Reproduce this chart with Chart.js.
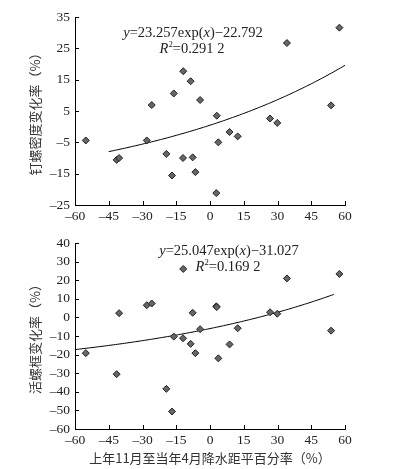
<!DOCTYPE html>
<html><head><meta charset="utf-8">
<script src="https://cdn.jsdelivr.net/npm/chart.js@4"></script>
<style>
html,body{margin:0;padding:0;background:#fff;}
#wrap{position:relative;width:396px;height:469px;overflow:hidden;}
canvas{position:absolute;left:0;}
#c1{top:0;} #c2{top:230px;}
</style></head><body>
<div id="wrap"><canvas id="c1" width="396" height="230"></canvas><canvas id="c2" width="396" height="239"></canvas></div>
<script>
// precipitation anomaly percentage (Nov of previous year to Apr), %
const rainAnomaly = [-55.2,-41.5,-40.4,-28.1,-25.9,-19.4,-16.9,-16.1,-11.9,-12.0,-8.6,-7.7,-6.5,-4.4,2.8,3.0,3.7,8.7,12.3,26.7,29.9,34.2,53.8,57.5];
// snail density change rate, %
const snailDensityChange = [-4.4,-10.6,-10.0,-4.4,6.9,-8.7,-15.6,10.6,17.7,-10.0,14.5,-9.8,-14.5,8.5,-21.2,3.5,-5.0,-1.7,-3.1,2.6,1.2,26.7,6.8,31.6];
// live-snail frame change rate, %
const liveFrameChange = [-19.2,-30.5,2.3,6.6,7.5,-38.4,-50.6,-10.3,26.1,-11.2,-14.2,2.5,-19.2,-6.3,6.0,5.6,-22.0,-14.5,-5.8,2.8,2.0,21.0,-7.1,23.4];

const xTicks = [-60,-45,-30,-15,0,15,30,45,60];
const densityTicks = [-25,-15,-5,5,15,25,35];
const frameTicks = [-60,-50,-40,-30,-20,-10,0,10,20,30,40];

// fitted curves printed on the chart: y = a*exp(x) + b (x as fraction)
const densityFitA = 23.257, densityFitB = -22.792, densityFitR2 = '0.291 2', densityFitRange = [-45, 60];
const frameFitA = 25.047, frameFitB = -31.027, frameFitR2 = '0.169 2', frameFitRange = [-60, 55];

const SERIF = "'Liberation Serif','Times New Roman',serif";
const CJK = "'Noto Sans CJK SC','Liberation Serif',serif";

function fitCurve(a, b, range){
  const pts = [];
  for (let x = range[0]; x <= range[1]; x += 1) pts.push({x, y: a*Math.exp(x/100) + b});
  return pts;
}
const pairs = ys => rainAnomaly.map((x,i)=>({x, y: ys[i]}));
const dash = v => (v < 0 ? '\u2013' + Math.abs(v) : '' + v);

const innerTicks = {
  id: 'innerTicks',
  afterDraw(chart){
    const {ctx, scales:{x, y}} = chart;
    ctx.save(); ctx.strokeStyle = '#000'; ctx.lineWidth = 1; ctx.beginPath();
    x.ticks.forEach(t => { const px = Math.round(x.getPixelForValue(t.value)) + 0.5; ctx.moveTo(px, y.bottom); ctx.lineTo(px, y.bottom - 4); });
    y.ticks.forEach(t => { const py = Math.round(y.getPixelForValue(t.value)) + 0.5; ctx.moveTo(x.left, py); ctx.lineTo(x.left + 4, py); });
    ctx.stroke(); ctx.restore();
  }
};

function drawPieces(ctx, pieces, cx, cy, size){
  let w = 0;
  pieces.forEach(p => {
    ctx.font = (p.it ? 'italic ' : '') + (p.sup ? size*0.6 : size) + 'px ' + SERIF;
    p.w = ctx.measureText(p.t).width; w += p.w;
  });
  let x = cx - w/2;
  ctx.textBaseline = 'alphabetic'; ctx.textAlign = 'left';
  pieces.forEach(p => {
    ctx.font = (p.it ? 'italic ' : '') + (p.sup ? size*0.6 : size) + 'px ' + SERIF;
    ctx.fillText(p.t, x, cy + size*0.33 - (p.sup ? size*0.4 : 0));
    x += p.w;
  });
}

const fitLabel = {
  id: 'fitLabel',
  afterDraw(chart, args, o){
    const ctx = chart.ctx; ctx.save(); ctx.fillStyle = '#222';
    const eq = [{t:'y', it:true}, {t:'=' + o.a.toFixed(3) + 'exp('}, {t:'x', it:true}, {t:')\u2212' + Math.abs(o.b).toFixed(3)}];
    drawPieces(ctx, eq, o.ex, o.ey, 14.5);
    const r2 = [{t:'R', it:true}, {t:'2', sup:true}, {t:'=' + o.r2}];
    drawPieces(ctx, r2, o.rx, o.ry, 14.5);
    ctx.restore();
  }
};

function makeChart(id, ys, yTicks, a, b, r2, range, yTitle, opts){
  return new Chart(document.getElementById(id), {
    type: 'scatter',
    data: { datasets: [
      { data: pairs(ys), pointStyle: 'rectRot', pointRadius: 3.5, backgroundColor: '#666', borderColor: '#222', borderWidth: 1, order: 1 },
      { type: 'line', data: fitCurve(a, b, range), borderColor: '#000', borderWidth: 1, pointRadius: 0, fill: false, tension: 0, order: 2 }
    ]},
    options: {
      responsive: false, animation: false, devicePixelRatio: 1,
      layout: { autoPadding: false, padding: { left: 0, right: 51, top: opts.top, bottom: 0 } },
      plugins: { legend: { display: false }, tooltip: { enabled: false },
        fitLabel: { a, b, r2, ex: opts.ex, ey: opts.ey, rx: opts.rx, ry: opts.ry } },
      scales: {
        x: { type: 'linear', min: -60, max: 60,
          afterBuildTicks: s => { s.ticks = xTicks.map(v => ({value: v})); },
          afterFit: s => { s.height = opts.xh; },
          grid: { display: false, drawTicks: false, tickLength: 0 }, border: { display: true, color: '#000', width: 1 },
          ticks: { padding: 3, color: '#222', font: { family: SERIF, size: 13.5 }, callback: dash, maxRotation: 0, autoSkip: false },
          title: { display: !!opts.xTitle, text: opts.xTitle || '', color: '#333', font: { family: CJK, size: 13 }, padding: { top: 0, bottom: 3 } }
        },
        y: { type: 'linear', min: yTicks[0], max: yTicks[yTicks.length-1],
          afterBuildTicks: s => { s.ticks = yTicks.map(v => ({value: v})); },
          afterFit: s => { s.width = 75; },
          grid: { display: false, drawTicks: false, tickLength: 0 }, border: { display: true, color: '#000', width: 1 },
          ticks: { padding: 5, color: '#222', font: { family: SERIF, size: 13.5 }, callback: dash, autoSkip: false },
          title: { display: true, text: yTitle, color: '#333', font: { family: CJK, size: 13 }, padding: { top: 27, bottom: 0 } }
        }
      }
    },
    plugins: [innerTicks, fitLabel]
  });
}

makeChart('c1', snailDensityChange, densityTicks, densityFitA, densityFitB, densityFitR2, densityFitRange,
  '钉螺密度变化率（%）', { top: 17, xh: 25, ex: 193, ey: 32, rx: 192, ry: 48 });
makeChart('c2', liveFrameChange, frameTicks, frameFitA, frameFitB, frameFitR2, frameFitRange,
  '活螺框变化率（%）', { top: 12, xh: 40, ex: 229, ey: 20, rx: 228, ry: 36, xTitle: '上年11月至当年4月降水距平百分率（%）' });
</script>
</body></html>
